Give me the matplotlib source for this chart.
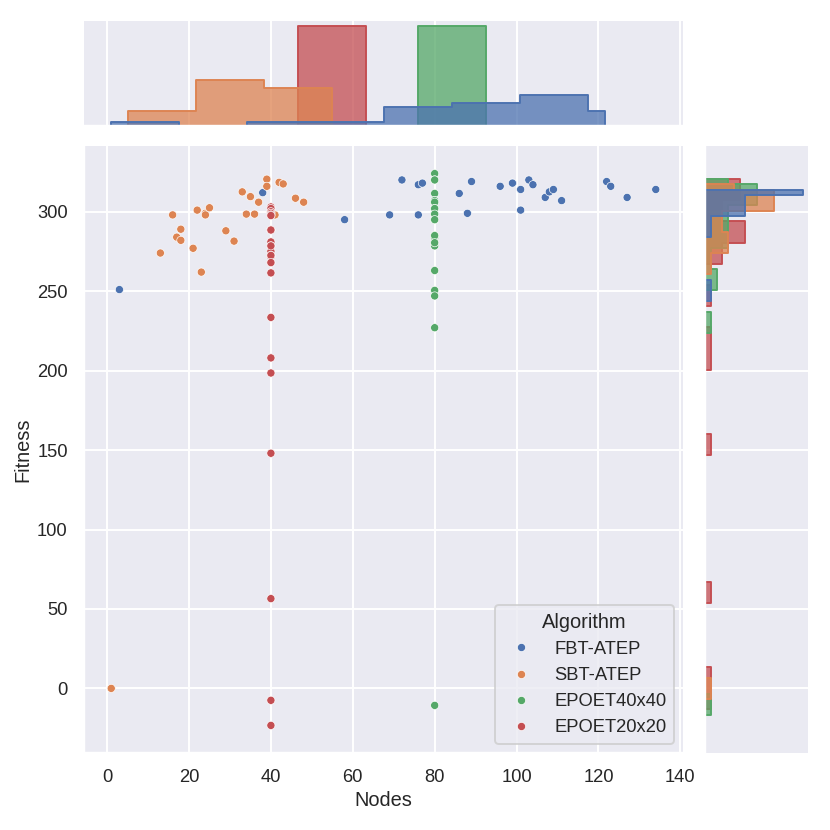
import matplotlib

matplotlib.use("Agg")
import pandas as pd
import seaborn as sns
from matplotlib import pyplot as plt

algorithms = ["FBT-ATEP", "SBT-ATEP", "EPOET40x40", "EPOET20x20"]

# FBT-ATEP runs (nodes, fitness)
fbt_nodes = [3, 38, 58, 69, 72, 76, 76, 77, 86, 88, 89, 96, 99, 99,
             101, 101, 103, 104, 107, 108, 109, 111, 122, 123, 127, 134]
fbt_fitness = [251, 312, 295, 298, 320, 317, 298, 318, 311.5, 299, 319, 316, 318, 318,
               314, 301, 320, 317, 309, 312.5, 314, 307, 319, 316, 309, 314]

# SBT-ATEP runs
sbt_nodes = [1, 13, 16, 17, 18, 18, 21, 22, 23, 24, 24, 25, 29, 31,
             33, 34, 35, 36, 37, 39, 39, 41, 42, 43, 46, 48]
sbt_fitness = [0, 274, 298, 284, 289, 282, 277, 301, 262, 299, 298, 302.5, 288, 281.5,
               312.5, 298.5, 309.5, 298.5, 306, 320.5, 316, 298, 318.5, 317.5, 308.5, 306]

# EPOET40x40 runs, all at 80 nodes (several runs share a value)
e40_fitness = [324, 320, 311.5, 307, 306, 302, 298.5, 295, 285, 283.5, 280.5, 278.5, 263,
               250.5, 247, 227, -10.7,
               320, 307, 306, 302, 302, 298.5, 295, 285, 280.5]
e40_nodes = [80] * len(e40_fitness)

# EPOET20x20 runs, all at 40 nodes (several runs share a value)
e20_fitness = [303, 302, 300, 299, 298, 297.6, 288.5, 281, 278.5, 275, 272.5, 271.5, 268,
               261.5, 233.5, 208, 198.5, 148, 56.5, -7.5, -23.3,
               288.5, 288.5, 278.5, 272.5, 268]
e20_nodes = [40] * len(e20_fitness)

df = pd.DataFrame({
    "Nodes": fbt_nodes + sbt_nodes + e40_nodes + e20_nodes,
    "Fitness": fbt_fitness + sbt_fitness + e40_fitness + e20_fitness,
    "Algorithm": ([algorithms[0]] * len(fbt_nodes) + [algorithms[1]] * len(sbt_nodes)
                  + [algorithms[2]] * len(e40_nodes) + [algorithms[3]] * len(e20_nodes)),
})

sns.set_theme(font_scale=0.87, rc={
    "xtick.major.pad": 2.5,
    "ytick.major.pad": 2.5,
    "axes.labelpad": 2.5,
})
plt.rcParams["font.family"] = ["Liberation Sans", "DejaVu Sans"]

g = sns.JointGrid(data=df, x="Nodes", y="Fitness", hue="Algorithm",
                  hue_order=algorithms, height=6)
sns.scatterplot(data=df, x="Nodes", y="Fitness", hue="Algorithm",
                hue_order=algorithms, s=18, ax=g.ax_joint)
sns.histplot(data=df, x="Nodes", hue="Algorithm", hue_order=algorithms,
             multiple="dodge", element="step", bins=8, legend=False, ax=g.ax_marg_x)
sns.histplot(data=df, y="Fitness", hue="Algorithm", hue_order=algorithms,
             multiple="dodge", element="step", bins=26, legend=False, ax=g.ax_marg_y)

g.ax_joint.legend(title="Algorithm", loc="lower right")

W = 830.0
g.ax_joint.set_position([84 / W, 1 - 753 / W, 599 / W, 607 / W])
g.ax_marg_x.set_position([84 / W, 1 - 126 / W, 599 / W, 105 / W])
g.ax_marg_y.set_position([705 / W, 1 - 753 / W, 103 / W, 607 / W])

g.figure.savefig("out.png", dpi=W / 6)
